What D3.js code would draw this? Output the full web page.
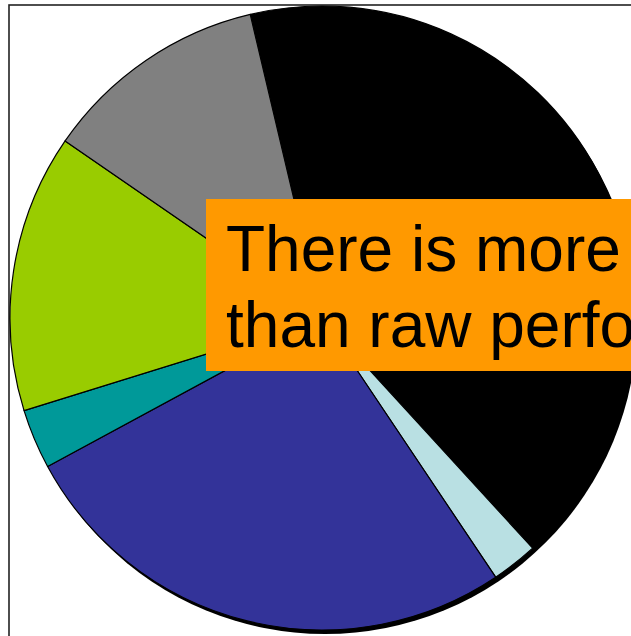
<!DOCTYPE html>
<html>
<head>
<meta charset="utf-8">
<script src="https://cdn.jsdelivr.net/npm/d3@7"></script>
<style>
  html, body { margin: 0; padding: 0; background: #fff; overflow: hidden; }
  svg { display: block; }
</style>
</head>
<body>
<svg id="chart" width="631" height="636"></svg>
<script>
// Data (percent shares, clockwise from the black slice)
const categories = ["A", "B", "C", "D", "E", "F"];
const values = [41.9, 2.4, 26.5, 3.1, 14.4, 11.7];
const colors = ["#000000", "#b9e0e3", "#333399", "#009999", "#99cc00", "#808080"];
const calloutLines = ["There is more", "than raw perfo"];

const svg = d3.select("#chart");
const W = 631, H = 636;
const cx = 322, cy = 318, R = 312;

// frame
svg.append("rect")
  .attr("x", 9).attr("y", 5)
  .attr("width", W + 10).attr("height", H + 10)
  .attr("fill", "#fff")
  .attr("stroke", "#222").attr("stroke-width", 1.6);

const startDeg = -13.3;
const pie = d3.pie().sort(null)
  .startAngle(startDeg * Math.PI / 180)
  .endAngle((startDeg + 360) * Math.PI / 180);
const arc = d3.arc().innerRadius(0).outerRadius(R);
const arcs = pie(values);

// shadow
svg.append("circle")
  .attr("cx", cx + 3).attr("cy", cy + 4).attr("r", R)
  .attr("fill", "#000");

const g = svg.append("g").attr("transform", `translate(${cx},${cy})`);
g.selectAll("path").data(arcs).join("path")
  .attr("d", arc)
  .attr("fill", (d, i) => colors[i])
  .attr("stroke", "#000")
  .attr("stroke-width", 1.2)
  .attr("stroke-linejoin", "round");

// callout box
svg.append("rect")
  .attr("x", 206).attr("y", 199)
  .attr("width", 500).attr("height", 172)
  .attr("fill", "#ff9900");

const t = svg.append("text")
  .attr("font-family", "Liberation Sans, Arial, sans-serif")
  .attr("font-size", 64)
  .attr("fill", "#000");
calloutLines.forEach((s, i) => {
  t.append("tspan").attr("x", 226).attr("y", 271 + i * 76).text(s);
});
</script>
</body>
</html>
